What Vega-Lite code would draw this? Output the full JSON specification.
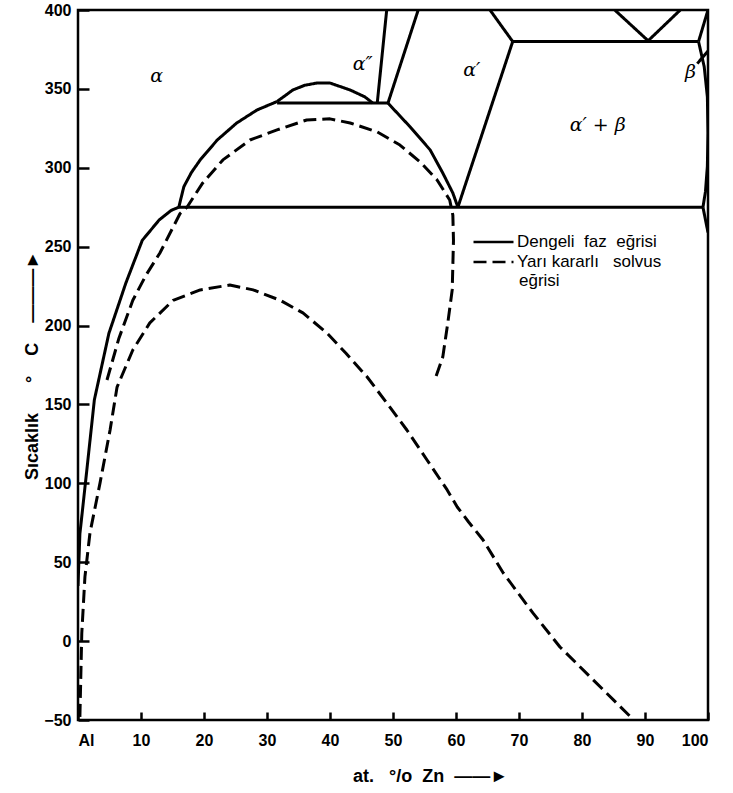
{
  "$schema": "https://vega.github.io/schema/vega-lite/v6.json",
  "width": 630,
  "height": 710,
  "autosize": {"type": "none"},
  "padding": {"left": 78, "top": 10, "right": 25, "bottom": 73},
  "background": "white",
  "config": {
    "view": {"stroke": "black", "strokeWidth": 2.5},
    "axis": {
      "domain": false, "ticks": true, "tickColor": "black", "tickWidth": 2.5,
      "labelColor": "black", "titleColor": "black", "grid": false,
      "labelFont": "Liberation Sans", "labelFontSize": 16, "labelFontWeight": "bold",
      "titleFont": "Liberation Sans", "titleFontSize": 18, "titleFontWeight": "bold"
    },
    "text": {"font": "DejaVu Serif", "fontStyle": "italic", "fontSize": 19, "color": "black"}
  },
  "datasets": {
    "curves": [
      {"s":"A","t":"Dengeli faz eğrisi","o":1,"x":0,"y":35},
      {"s":"A","t":"Dengeli faz eğrisi","o":2,"x":0.3,"y":68},
      {"s":"A","t":"Dengeli faz eğrisi","o":3,"x":1.2,"y":101},
      {"s":"A","t":"Dengeli faz eğrisi","o":4,"x":2.6,"y":153},
      {"s":"A","t":"Dengeli faz eğrisi","o":5,"x":4.9,"y":195},
      {"s":"A","t":"Dengeli faz eğrisi","o":6,"x":7.6,"y":227},
      {"s":"A","t":"Dengeli faz eğrisi","o":7,"x":10.2,"y":254},
      {"s":"A","t":"Dengeli faz eğrisi","o":8,"x":12.9,"y":267},
      {"s":"A","t":"Dengeli faz eğrisi","o":9,"x":14.8,"y":273},
      {"s":"A","t":"Dengeli faz eğrisi","o":10,"x":16,"y":275},
      {"s":"B","t":"Dengeli faz eğrisi","o":1,"x":16,"y":275},
      {"s":"B","t":"Dengeli faz eğrisi","o":2,"x":99.2,"y":275},
      {"s":"C","t":"Dengeli faz eğrisi","o":1,"x":16,"y":275},
      {"s":"C","t":"Dengeli faz eğrisi","o":2,"x":16.8,"y":288},
      {"s":"C","t":"Dengeli faz eğrisi","o":3,"x":18,"y":297},
      {"s":"C","t":"Dengeli faz eğrisi","o":4,"x":19.4,"y":305},
      {"s":"C","t":"Dengeli faz eğrisi","o":5,"x":22.1,"y":317.6},
      {"s":"C","t":"Dengeli faz eğrisi","o":6,"x":25.2,"y":328.4},
      {"s":"C","t":"Dengeli faz eğrisi","o":7,"x":28.4,"y":336.6},
      {"s":"C","t":"Dengeli faz eğrisi","o":8,"x":31.6,"y":342},
      {"s":"D","t":"Dengeli faz eğrisi","o":1,"x":31.6,"y":341},
      {"s":"D","t":"Dengeli faz eğrisi","o":2,"x":49.2,"y":341},
      {"s":"E","t":"Dengeli faz eğrisi","o":1,"x":31.6,"y":342},
      {"s":"E","t":"Dengeli faz eğrisi","o":2,"x":34.1,"y":349.3},
      {"s":"E","t":"Dengeli faz eğrisi","o":3,"x":36,"y":352.3},
      {"s":"E","t":"Dengeli faz eğrisi","o":4,"x":37.9,"y":353.7},
      {"s":"E","t":"Dengeli faz eğrisi","o":5,"x":40,"y":353.7},
      {"s":"E","t":"Dengeli faz eğrisi","o":6,"x":43.2,"y":349.3},
      {"s":"E","t":"Dengeli faz eğrisi","o":7,"x":45.5,"y":345},
      {"s":"E","t":"Dengeli faz eğrisi","o":8,"x":46.8,"y":341},
      {"s":"F","t":"Dengeli faz eğrisi","o":1,"x":47.5,"y":341},
      {"s":"F","t":"Dengeli faz eğrisi","o":2,"x":49,"y":400},
      {"s":"G","t":"Dengeli faz eğrisi","o":1,"x":49.2,"y":341},
      {"s":"G","t":"Dengeli faz eğrisi","o":2,"x":54,"y":400},
      {"s":"H","t":"Dengeli faz eğrisi","o":1,"x":49.2,"y":341},
      {"s":"H","t":"Dengeli faz eğrisi","o":2,"x":52.7,"y":326},
      {"s":"H","t":"Dengeli faz eğrisi","o":3,"x":55.9,"y":311.3},
      {"s":"H","t":"Dengeli faz eğrisi","o":4,"x":57.9,"y":296.7},
      {"s":"H","t":"Dengeli faz eğrisi","o":5,"x":59.5,"y":284},
      {"s":"H","t":"Dengeli faz eğrisi","o":6,"x":60.3,"y":275},
      {"s":"I","t":"Dengeli faz eğrisi","o":1,"x":60.3,"y":275},
      {"s":"I","t":"Dengeli faz eğrisi","o":2,"x":69,"y":380},
      {"s":"J","t":"Dengeli faz eğrisi","o":1,"x":69,"y":380},
      {"s":"J","t":"Dengeli faz eğrisi","o":2,"x":65.4,"y":400},
      {"s":"K","t":"Dengeli faz eğrisi","o":1,"x":69,"y":380},
      {"s":"K","t":"Dengeli faz eğrisi","o":2,"x":98.5,"y":380},
      {"s":"L","t":"Dengeli faz eğrisi","o":1,"x":85.2,"y":400},
      {"s":"L","t":"Dengeli faz eğrisi","o":2,"x":90.5,"y":380.5},
      {"s":"L","t":"Dengeli faz eğrisi","o":3,"x":95.6,"y":400},
      {"s":"M","t":"Dengeli faz eğrisi","o":1,"x":98.5,"y":380},
      {"s":"M","t":"Dengeli faz eğrisi","o":2,"x":100,"y":400},
      {"s":"N","t":"Dengeli faz eğrisi","o":1,"x":98.5,"y":380},
      {"s":"N","t":"Dengeli faz eğrisi","o":2,"x":99.4,"y":364},
      {"s":"N","t":"Dengeli faz eğrisi","o":3,"x":99.9,"y":345},
      {"s":"N","t":"Dengeli faz eğrisi","o":4,"x":100,"y":322},
      {"s":"N","t":"Dengeli faz eğrisi","o":5,"x":99.9,"y":301},
      {"s":"N","t":"Dengeli faz eğrisi","o":6,"x":99.6,"y":285},
      {"s":"N","t":"Dengeli faz eğrisi","o":7,"x":99.2,"y":275},
      {"s":"O","t":"Dengeli faz eğrisi","o":1,"x":99.2,"y":275},
      {"s":"O","t":"Dengeli faz eğrisi","o":2,"x":100,"y":259},
      {"s":"P","t":"Dengeli faz eğrisi","o":1,"x":98.3,"y":366},
      {"s":"P","t":"Dengeli faz eğrisi","o":2,"x":100,"y":374},
      {"s":"Q","t":"Yarı kararlı solvus eğrisi","o":1,"x":4.6,"y":165.5},
      {"s":"Q","t":"Yarı kararlı solvus eğrisi","o":2,"x":6.5,"y":192},
      {"s":"Q","t":"Yarı kararlı solvus eğrisi","o":3,"x":8.7,"y":216},
      {"s":"Q","t":"Yarı kararlı solvus eğrisi","o":4,"x":10.8,"y":232},
      {"s":"Q","t":"Yarı kararlı solvus eğrisi","o":5,"x":13,"y":246},
      {"s":"Q","t":"Yarı kararlı solvus eğrisi","o":6,"x":16.2,"y":271},
      {"s":"Q","t":"Yarı kararlı solvus eğrisi","o":7,"x":17.3,"y":275},
      {"s":"Q","t":"Yarı kararlı solvus eğrisi","o":8,"x":19.8,"y":290.4},
      {"s":"Q","t":"Yarı kararlı solvus eğrisi","o":9,"x":23,"y":305},
      {"s":"Q","t":"Yarı kararlı solvus eğrisi","o":10,"x":27.3,"y":317.6},
      {"s":"Q","t":"Yarı kararlı solvus eğrisi","o":11,"x":31.6,"y":324},
      {"s":"Q","t":"Yarı kararlı solvus eğrisi","o":12,"x":36.3,"y":330.3},
      {"s":"Q","t":"Yarı kararlı solvus eğrisi","o":13,"x":40,"y":331},
      {"s":"Q","t":"Yarı kararlı solvus eğrisi","o":14,"x":43.2,"y":328.4},
      {"s":"Q","t":"Yarı kararlı solvus eğrisi","o":15,"x":47.5,"y":322.7},
      {"s":"Q","t":"Yarı kararlı solvus eğrisi","o":16,"x":51.1,"y":314.4},
      {"s":"Q","t":"Yarı kararlı solvus eğrisi","o":17,"x":54.3,"y":303.7},
      {"s":"Q","t":"Yarı kararlı solvus eğrisi","o":18,"x":57,"y":292.3},
      {"s":"Q","t":"Yarı kararlı solvus eğrisi","o":19,"x":59,"y":279.6},
      {"s":"Q","t":"Yarı kararlı solvus eğrisi","o":20,"x":59.5,"y":270},
      {"s":"Q","t":"Yarı kararlı solvus eğrisi","o":21,"x":59.6,"y":254},
      {"s":"Q","t":"Yarı kararlı solvus eğrisi","o":22,"x":59.4,"y":222.6},
      {"s":"Q","t":"Yarı kararlı solvus eğrisi","o":23,"x":58.7,"y":201.7},
      {"s":"Q","t":"Yarı kararlı solvus eğrisi","o":24,"x":57.9,"y":180},
      {"s":"Q","t":"Yarı kararlı solvus eğrisi","o":25,"x":56.8,"y":167.4},
      {"s":"R","t":"Yarı kararlı solvus eğrisi","o":1,"x":0.3,"y":-48},
      {"s":"R","t":"Yarı kararlı solvus eğrisi","o":2,"x":0.6,"y":5},
      {"s":"R","t":"Yarı kararlı solvus eğrisi","o":3,"x":1.1,"y":40.7},
      {"s":"R","t":"Yarı kararlı solvus eğrisi","o":4,"x":1.9,"y":68.6},
      {"s":"R","t":"Yarı kararlı solvus eğrisi","o":5,"x":3.5,"y":100.3},
      {"s":"R","t":"Yarı kararlı solvus eğrisi","o":6,"x":5.1,"y":134},
      {"s":"R","t":"Yarı kararlı solvus eğrisi","o":7,"x":6.2,"y":161},
      {"s":"R","t":"Yarı kararlı solvus eğrisi","o":8,"x":8.7,"y":184.5},
      {"s":"R","t":"Yarı kararlı solvus eğrisi","o":9,"x":11.4,"y":201.7},
      {"s":"R","t":"Yarı kararlı solvus eğrisi","o":10,"x":15.1,"y":216},
      {"s":"R","t":"Yarı kararlı solvus eğrisi","o":11,"x":19.4,"y":222.6},
      {"s":"R","t":"Yarı kararlı solvus eğrisi","o":12,"x":24.1,"y":225.7},
      {"s":"R","t":"Yarı kararlı solvus eğrisi","o":13,"x":27.8,"y":222.6},
      {"s":"R","t":"Yarı kararlı solvus eğrisi","o":14,"x":32.1,"y":216},
      {"s":"R","t":"Yarı kararlı solvus eğrisi","o":15,"x":35.7,"y":208},
      {"s":"R","t":"Yarı kararlı solvus eğrisi","o":16,"x":39.5,"y":195.3},
      {"s":"R","t":"Yarı kararlı solvus eğrisi","o":17,"x":42.5,"y":182.6},
      {"s":"R","t":"Yarı kararlı solvus eğrisi","o":18,"x":45.9,"y":167.4},
      {"s":"R","t":"Yarı kararlı solvus eğrisi","o":19,"x":49,"y":151},
      {"s":"R","t":"Yarı kararlı solvus eğrisi","o":20,"x":52.2,"y":133.8},
      {"s":"R","t":"Yarı kararlı solvus eğrisi","o":21,"x":55.4,"y":114.8},
      {"s":"R","t":"Yarı kararlı solvus eğrisi","o":22,"x":58.6,"y":95.8},
      {"s":"R","t":"Yarı kararlı solvus eğrisi","o":23,"x":60.2,"y":85},
      {"s":"R","t":"Yarı kararlı solvus eğrisi","o":24,"x":62,"y":75.5},
      {"s":"R","t":"Yarı kararlı solvus eğrisi","o":25,"x":64.3,"y":64.1},
      {"s":"R","t":"Yarı kararlı solvus eğrisi","o":26,"x":67.5,"y":43.2},
      {"s":"R","t":"Yarı kararlı solvus eğrisi","o":27,"x":72.2,"y":17.9},
      {"s":"R","t":"Yarı kararlı solvus eğrisi","o":28,"x":76.5,"y":-3.7},
      {"s":"R","t":"Yarı kararlı solvus eğrisi","o":29,"x":81.3,"y":-22.7},
      {"s":"R","t":"Yarı kararlı solvus eğrisi","o":30,"x":87.9,"y":-48.7}
    ],
    "labels": [
      {"x":12.5,"y":358,"label":"α"},
      {"x":45.2,"y":366,"label":"α″"},
      {"x":62.5,"y":362,"label":"α′"},
      {"x":82.5,"y":327,"label":"α′ + β"},
      {"x":97.2,"y":361,"label":"β"}
    ],
    "notes": [
      {"x":70.0,"y":228.5,"label":"eğrisi"}
    ]
  },
  "layer": [
    {
      "data": {"name": "curves"},
      "mark": {"type": "line", "color": "black", "strokeWidth": 3, "strokeCap": "butt", "strokeJoin": "round", "clip": true},
      "encoding": {
        "x": {
          "field": "x", "type": "quantitative",
          "scale": {"domain": [0, 100], "nice": false, "zero": false},
          "axis": {
            "values": [0, 10, 20, 30, 40, 50, 60, 70, 80, 90, 100],
            "labelExpr": "datum.value == 0 ? 'Al' : datum.label",
            "offset": -8, "tickSize": 8, "labelPadding": 12,
            "title": "at.\u00a0\u00a0\u00a0°/o\u00a0\u00a0Zn\u00a0\u00a0——►",
            "titleX": 352, "titleY": 64, "titleBaseline": "middle"
          }
        },
        "y": {
          "field": "y", "type": "quantitative",
          "scale": {"domain": [-50, 400], "nice": false, "zero": false},
          "axis": {
            "values": [-50, 0, 50, 100, 150, 200, 250, 300, 350, 400],
            "offset": -11, "tickSize": 11, "labelPadding": 7,
            "title": "Sıcaklık\u00a0\u00a0\u00a0\u00a0\u00a0\u00a0°\u00a0\u00a0\u00a0\u00a0C\u00a0\u00a0\u00a0\u00a0———►",
            "titleX": -57, "titleY": 355, "titleBaseline": "middle", "titleAngle": -90
          }
        },
        "detail": {"field": "s"},
        "order": {"field": "o", "type": "quantitative"},
        "strokeDash": {
          "field": "t", "type": "nominal",
          "scale": {"domain": ["Dengeli faz eğrisi", "Yarı kararlı solvus eğrisi"], "range": [[1, 0], [13, 6]]},
          "legend": {
            "orient": "none", "legendX": 394, "legendY": 224, "title": null,
            "symbolType": "stroke", "symbolStrokeWidth": 2.5, "symbolSize": 1600,
            "symbolStrokeColor": "black", "clipHeight": 16,
            "labelFont": "Liberation Sans", "labelFontSize": 17, "labelColor": "black",
            "labelOffset": 2, "rowPadding": 3, "labelLimit": 300,
            "labelExpr": "datum.label == 'Yarı kararlı solvus eğrisi' ? 'Yarı kararlı\u00a0\u00a0\u00a0solvus' : 'Dengeli\u00a0\u00a0faz\u00a0\u00a0eğrisi'"
          }
        }
      }
    },
    {
      "data": {"name": "labels"},
      "mark": {"type": "text"},
      "encoding": {
        "x": {"field": "x", "type": "quantitative"},
        "y": {"field": "y", "type": "quantitative"},
        "text": {"field": "label"}
      }
    },
    {
      "data": {"name": "notes"},
      "mark": {"type": "text", "font": "Liberation Sans", "fontStyle": "normal", "fontSize": 17, "align": "left", "baseline": "middle"},
      "encoding": {
        "x": {"field": "x", "type": "quantitative"},
        "y": {"field": "y", "type": "quantitative"},
        "text": {"field": "label"}
      }
    }
  ]
}
